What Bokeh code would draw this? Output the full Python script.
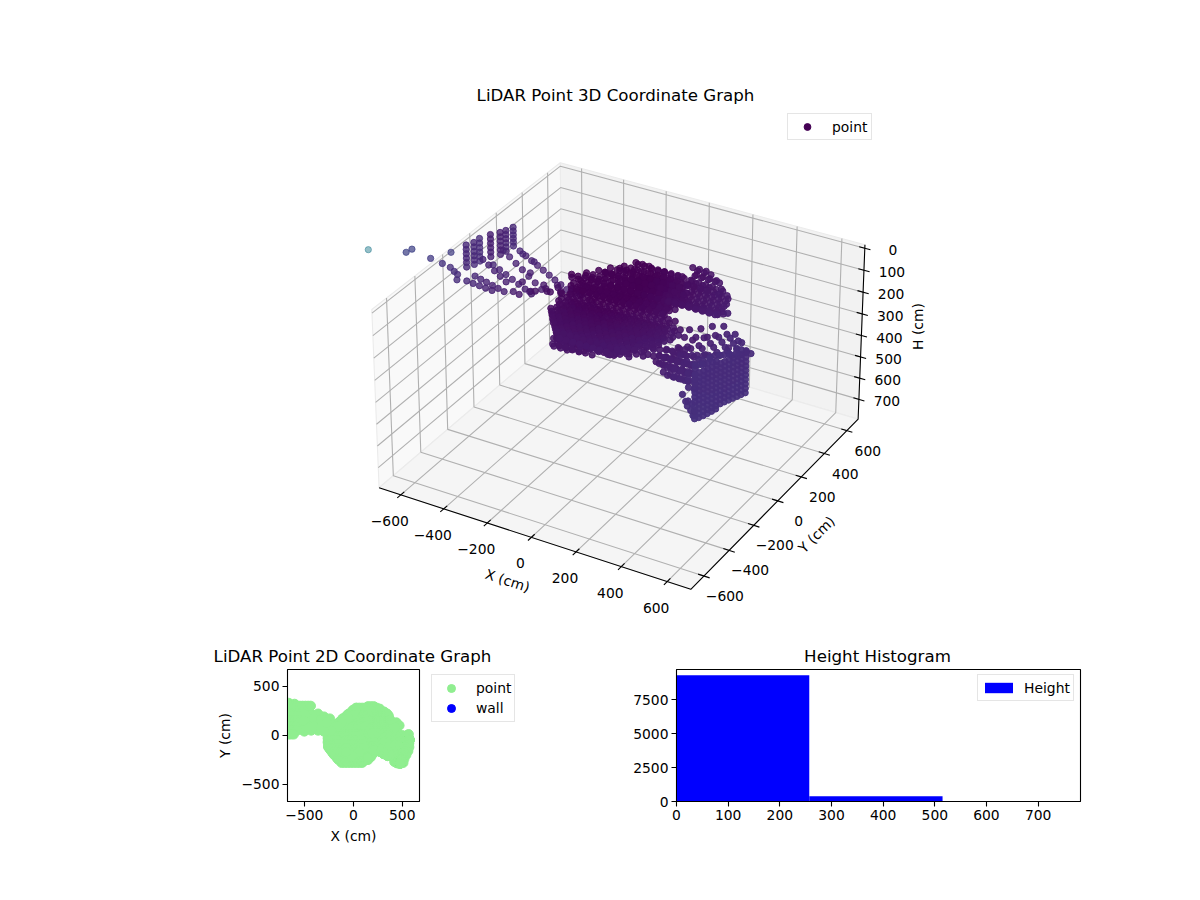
from bokeh.plotting import figure
from bokeh.models import ColumnDataSource, Legend, LegendItem, Range1d, FixedTicker
from bokeh.layouts import column, row
from bokeh.core.properties import value
from bokeh.embed import file_html
from bokeh.resources import INLINE
from bokeh.palettes import Viridis256
from bokeh.transform import linear_cmap
import numpy as np

FONT = "DejaVu Sans"

X_TICKS = [-600, -400, -200, 0, 200, 400, 600]
Y_TICKS = [-600, -400, -200, 0, 200, 400, 600]
H_TICKS = [0, 100, 200, 300, 400, 500, 600, 700]

# lidar returns, x / y / height in cm
CORE_Y = [280, 260, 220, 180, 140, 100, 60, 20, -20, -60, -100, -140, -180, -220, -250, -280]
CORE_H = [95, 110, 120, 125, 130, 130, 130, 130, 135, 135, 140, 140, 145, 150, 150, 155]
CORE_X = [
    [30, 60, 90, 120, 150],
    [0, 30, 60, 90, 120, 150],
    [-45, -15, 15, 45, 75, 105, 135, 165],
    [-90, -60, -30, 0, 30, 60, 90, 120, 150, 180],
    [-135, -105, -75, -45, -15, 15, 45, 75, 105, 135, 165],
    [-240, -210, -180, -150, -120, -90, -60, -30, 0, 30, 60, 90, 120, 150, 180],
    [-270, -240, -210, -180, -150, -120, -90, -60, -30, 0, 30, 60, 90, 120, 150],
    [-225, -195, -165, -135, -105, -75, -45, -15, 15, 45, 75, 105, 135, 165, 195, 225],
    [-240, -210, -180, -150, -120, -90, -60, -30, 0, 30, 60, 90, 120, 150, 180, 210, 240, 270],
    [-255, -225, -195, -165, -135, -105, -75, -45, -15, 15, 45, 75, 105, 135, 165, 195, 225, 255, 285],
    [-240, -210, -180, -150, -120, -90, -60, -30, 0, 30, 60, 90, 120, 150, 180, 210, 240, 270],
    [-240, -210, -180, -150, -120, -90, -60, -30, 0, 30, 60, 90, 120, 150, 180, 210, 240],
    [-210, -180, -150, -120, -90, -60, -30, 0, 30, 60, 90, 120, 150, 180, 210],
    [-150, -120, -90, -60, -30, 0, 30, 60, 90, 120, 150, 180],
    [-150, -120, -90, -60, -30, 0, 30, 60, 90, 120, 150],
    [-120, -90, -60, -30, 0, 30, 60, 90],
]

FILL_Y = [240, 200, 160, 120, 80, 40, 0, -40, -80, -120, -160, -200, -235]
FILL_H = [115, 120, 128, 130, 130, 130, 132, 135, 138, 140, 142, 148, 150]
FILL_X = [
    [-15, 15, 45, 75, 105, 135],
    [-60, -30, 0, 30, 60, 90, 120, 150],
    [-105, -75, -45, -15, 15, 45, 75, 105, 135, 165],
    [-150, -120, -90, -60, -30, 0, 30, 60, 90, 120, 150],
    [-225, -195, -165, -135, -105, -75, -45, -15, 15, 45, 75, 105, 135, 165],
    [-255, -225, -195, -165, -135, -105, -75, -45, -15, 15, 45, 75, 105, 135, 165],
    [-240, -210, -180, -150, -120, -90, -60, -30, 0, 30, 60, 90, 120, 150, 180, 210],
    [-255, -225, -195, -165, -135, -105, -75, -45, -15, 15, 45, 75, 105, 135, 165, 195, 225, 255],
    [-240, -210, -180, -150, -120, -90, -60, -30, 0, 30, 60, 90, 120, 150, 180, 210, 240, 270],
    [-255, -225, -195, -165, -135, -105, -75, -45, -15, 15, 45, 75, 105, 135, 165, 195, 225, 255],
    [-225, -195, -165, -135, -105, -75, -45, -15, 15, 45, 75, 105, 135, 165, 195, 225],
    [-195, -165, -135, -105, -75, -45, -15, 15, 45, 75, 105, 135, 165, 180],
    [-165, -135, -105, -75, -45, -15, 15, 45, 75, 105, 135],
]

CAP_Y = [210, 180, 150, 120, 90, 60, 30, 0]
CAP_H = [95, 95, 95, 95, 95, 95, 95, 100]
CAP_X = [
    [-30, 0, 30, 60, 90, 120, 150],
    [-60, -30, 0, 30, 60, 90, 120, 150, 165],
    [-105, -75, -45, -15, 15, 45, 75, 105, 135, 165],
    [-150, -120, -90, -60, -30, 0, 30, 60, 90, 120, 150, 165],
    [-195, -165, -135, -105, -75, -45, -15, 15, 45, 75, 105, 135, 165],
    [-225, -195, -165, -135, -105, -75, -45, -15, 15, 45, 75, 105, 135, 165],
    [-240, -210, -180, -150, -120, -90, -60, -30, 0, 30, 60, 90, 120, 150, 180],
    [-210, -180, -150, -120, -90, -60, -30, 0, 30, 60, 90, 120, 150, 180],
]

HIGH_Y = [200, 160, 120, 80, 40]
HIGH_H = [65, 65, 65, 65, 65]
HIGH_X = [
    [-60, -30, 0, 30, 60, 90, 120, 150, 180],
    [-105, -75, -45, -15, 15, 45, 75, 105, 135, 165],
    [-150, -120, -90, -60, -30, 0, 30, 60, 90, 120, 150, 165],
    [-210, -180, -150, -120, -90, -60, -30, 0, 30, 60, 90, 120, 150, 165],
    [-255, -225, -195, -165, -135, -105, -75, -45, -15, 15, 45, 75, 105, 135, 165, 180],
]

ROOF_Y = [210, 170, 130, 90, 280, 240, 200, 160]
ROOF_H = [45, 45, 45, 45, 45, 45, 45, 45]
ROOF_X = [
    [-50, -20, 10, 40, 70, 100, 130, 150],
    [-90, -60, -30, 0, 30, 60, 90, 120, 150],
    [-130, -100, -70, -40, -10, 20, 50, 80, 110, 150],
    [-160, -130, -100, -70, -40, -10, 20, 50, 80, 120],
    [180, 210, 240],
    [190, 220, 250, 280, 300],
    [200, 230, 260, 290, 330],
    [200, 230, 260, 290, 340],
]

LOWER_Y = [30, -10, -50, -90, -130, -170, -210, -245, -270]
LOWER_H = [200, 200, 200, 200, 200, 200, 195, 175, 170]
LOWER_X = [
    [-240, -200, -160, -120],
    [-250, -210, -170, -130, -90, -50],
    [-240, -200, -160, -120, -80, -40, 0, 40],
    [-250, -210, -170, -130, -90, -50, -10, 30, 70, 110],
    [-230, -190, -150, -110, -70, -30, 10, 50, 90, 130, 170],
    [-200, -160, -120, -80, -40, 0, 40, 80, 120, 160, 190],
    [-170, -130, -90, -50, -10, 30, 70, 110, 150],
    [-130, -90, -50, -10, 30, 70, 110],
    [-110, -70, -30, 10, 50, 90, 100],
]

MID_Y = [10, -30, -70, -110, -150, -190, -230]
MID_H = [170, 170, 170, 170, 170, 170, 170]
MID_X = [
    [-240, -210, -180, -150, -120, -90, -60, -30, 0, 30, 60, 90, 120, 150, 180],
    [-255, -225, -195, -165, -135, -105, -75, -45, -15, 15, 45, 75, 105, 135, 165, 195],
    [-240, -210, -180, -150, -120, -90, -60, -30, 0, 30, 60, 90, 120, 150, 180, 210],
    [-255, -225, -195, -165, -135, -105, -75, -45, -15, 15, 45, 75, 105, 135, 165, 195, 225],
    [-225, -195, -165, -135, -105, -75, -45, -15, 15, 45, 75, 105, 135, 165, 195, 225],
    [-195, -165, -135, -105, -75, -45, -15, 15, 45, 75, 105, 135, 165, 195],
    [-150, -120, -90, -60, -30, 0, 30, 60, 90, 120, 150],
]

DEEP_Y = [-10, -50, -90, -130, -170, -210]
DEEP_H = [235, 235, 235, 235, 235, 235]
DEEP_X = [
    [-240, -210, -180, -150, -120, -90, -60, -30, 0, 30, 60],
    [-255, -225, -195, -165, -135, -105, -75, -45, -15, 15, 45, 75],
    [-240, -210, -180, -150, -120, -90, -60, -30, 0, 30, 60, 90],
    [-225, -195, -165, -135, -105, -75, -45, -15, 15, 45, 75, 105],
    [-195, -165, -135, -105, -75, -45, -15, 15, 45, 60],
    [-165, -135, -105, -75, -45, -15],
]

BASE_Y = [20, -30, -70, -110, -150, -190, -50, -90, -130, -170]
BASE_H = [280, 280, 280, 280, 280, 260, 260, 260, 260, 255]
BASE_X = [
    [-250, -220],
    [-260, -230],
    [-260, -230, -200],
    [-250, -220, -190, -160],
    [-230, -200, -170, -140, -110],
    [-200, -170, -140],
    [-255, -225, -195, -165],
    [-240, -210, -180, -150, -120, -90],
    [-225, -195, -165, -135, -105, -75],
    [-195, -165, -135, -105, -75],
]

RIM_Y = [278, 250, 210, 170, 130, 90, 50]
RIM_H = [90, 75, 40, 60, 75, 85, 85]
RIM_X = [
    [30],
    [-10, 20],
    [-60, -30, 0],
    [-110, -80, -50],
    [-150, -120],
    [-220, -190, -160],
    [-260, -230],
]

RIGHT_Y = [295, 270, 240, 220, 200, 180, 160, 140, 120, 100, 80, 60, 40, 20]
RIGHT_H = [45, 58, 78, 80, 80, 80, 80, 80, 80, 80, 75, 70, 60, 50]
RIGHT_X = [
    [150, 180, 210],
    [180, 210, 240, 270],
    [195, 225, 255, 285, 315],
    [195, 225, 255, 285, 315, 345],
    [210, 240, 270, 300, 330, 360],
    [210, 240, 270, 300, 330, 360],
    [195, 225, 255, 285, 315, 345, 375],
    [195, 225, 255, 285, 315, 345, 375],
    [210, 240, 270, 300, 330, 360, 375],
    [210, 240, 270, 300, 330, 360, 390],
    [195, 225, 255, 285, 315, 345, 375, 405],
    [180, 210, 240, 270, 300, 330, 360, 390],
    [210, 240, 270, 300, 330, 360, 400],
    [195, 225, 255, 285, 315, 345, 375, 400],
]

SCATTER_X = [300, 350, 400, 450, 500, 550, 565,
             300, 350, 400, 450, 500, 550, 570,
             300, 350, 400, 450, 500, 550, 570,
             300, 350, 400, 450, 500, 550, 570,
             350, 400, 450, 500, 540, 560,
             400, 450, 500, 540,
             450, 490, 520,
             480, 510,
             440, 440, 470, 430,
             325, 375, 425, 475, 525,
             325, 375, 425, 475, 525,
             375, 425, 475, 520]
SCATTER_Y = [0, 0, 0, 0, 0, 0, 10,
             -40, -40, -40, -40, -40, -40, -40,
             -80, -80, -80, -80, -80, -80, -80,
             -120, -120, -120, -120, -120, -120, -120,
             -160, -160, -160, -160, -160, -160,
             -200, -200, -200, -200,
             -240, -240, -240,
             -280, -280,
             50, 130, 100, 80,
             -20, -20, -20, -20, -20,
             -60, -60, -60, -60, -60,
             -100, -100, -100, -100]
SCATTER_H = [136, 117, 92, 77, 98, 160, 170,
             150, 135, 120, 105, 95, 100, 130,
             180, 165, 150, 130, 115, 105, 105,
             190, 175, 160, 145, 130, 115, 100,
             155, 140, 125, 110, 95, 85,
             147, 122, 98, 77,
             121, 95, 77,
             112, 85,
             47, 250, 250, 220,
             165, 140, 115, 95, 110,
             175, 155, 130, 110, 100,
             185, 160, 135, 115]

BAND_ROW_Y = [-90, -110, -110, -110, -130, -130, -130, -150, -150, -150, -170, -170, -170, -190, -190, -210, -210, -250, -250]
BAND_ROW_H = [170, 180, 215, 190, 170, 205, 235, 190, 225, 200, 180, 215, 245, 205, 240, 190, 225, 190, 225]
BAND_ROW_X = [
    [300, 330],
    [260, 285, 310, 335],
    [260, 285, 310, 335],
    [200, 230],
    [270, 300, 330, 360],
    [240, 270, 300, 330, 360],
    [225, 250, 280, 310, 340],
    [250, 275, 300, 325, 350, 375, 390],
    [250, 275, 300, 325, 350, 375, 390],
    [200, 225],
    [280, 310, 340, 370, 400],
    [280, 310, 340, 370, 400],
    [280, 310, 340, 370],
    [310, 335, 360, 385, 400],
    [310, 335, 360, 385, 400],
    [350, 380, 410, 440],
    [350, 380, 410, 440],
    [435, 460],
    [435, 460],
]

BAND_X = [420, 450, 470, 480, 440, 450, 465, 475]
BAND_Y = [-270, -280, -285, -285, -280, -285, -285, -285]
BAND_H = [250, 265, 270, 300, 270, 285, 300, 320]

WALL_X = [572, 564, 557, 549, 542, 534, 527, 519, 512, 504, 497, 489, 482]
WALL_Y = [-45, -65, -85, -105, -125, -145, -165, -185, -205, -225, -245, -265, -285]
WALL_H = [135, 155, 175, 195, 215, 235, 255, 275, 295, 315]
WALL_EXTRA_X = [519, 512, 504, 497, 489, 482, 519, 512, 504, 497, 489, 482]
WALL_EXTRA_Y = [-185, -205, -225, -245, -265, -285, -185, -205, -225, -245, -265, -285]
WALL_EXTRA_H = [118, 112, 108, 105, 100, 95, 330, 332, 334, 335, 335, 332]

STACK_X = [-740, -748, -772, -643, -654, -677, -692]
STACK_Y = [30, 100, 180, 60, 150, 230, 310]
STACK_H = [
    [62, 82, 102, 122, 142, 163],
    [86, 106, 127, 147, 167, 187],
    [112, 133, 154, 175, 196, 217],
    [2, 22, 42, 62, 82, 103],
    [38, 58, 78, 98, 118, 139],
    [73, 92, 111, 130, 149, 169],
    [100, 117, 135, 152, 169, 187],
]

DIAG_Y = [300, 220, 150, 90, 50, 10]
DIAG_X = [
    [-655, -627, -600, -572, -545, -517, -490, -462, -435],
    [-685, -655, -625, -595, -565, -535, -505],
    [-690, -660, -630, -600, -570, -540, -510],
    [-700, -673, -646, -619, -592],
    [-714, -687, -660, -632, -605, -577],
    [-728, -698, -668, -639, -609],
]
DIAG_H = [
    [195, 210, 225, 239, 254, 269, 284, 298, 313],
    [162, 184, 206, 227, 249, 271, 293],
    [197, 211, 225, 239, 253, 267, 281],
    [146, 164, 183, 201, 219],
    [207, 214, 220, 227, 233, 240],
    [214, 217, 219, 222, 224],
]

NECK_X = [-500, -500, -430, -430, -430, -360, -360, -360, -300, -300, -300, -240, -660, -600,
          -470, -470, -400, -400, -330, -330, -270, -540, -540, -570]
NECK_Y = [120, 40, 220, 130, 50, 220, 130, 50, 190, 110, 40, 170, 330, 320,
          180, 80, 175, 90, 160, 80, 130, 130, 60, 240]
NECK_H = [253, 226, 252, 224, 196, 254, 217, 180, 230, 202, 166, 247, 225, 240,
          243, 223, 233, 208, 223, 191, 208, 224, 234, 244]

# the few far returns on the left, the first one is the highest of all
FAR_X = [-1800, -1116, -1125, -972, -990, -876, -825, -800, -778, -775]
FAR_Y = [870, 200, 170, 120, 300, 60, 40, 30, 20, 10]
FAR_H = [778, 266, 269, 231, 294, 199, 193, 200, 203, 222]

# legend entries only, these lie outside the views
LEGEND_X = [5000]
LEGEND_Y = [5000]

HIST_EDGES = [0, 257, 515, 773]
HIST_COUNTS = [9292, 390, 1]


def rows_to_points(row_x, row_y, row_h):
    xs, ys, hs = [], [], []
    for vals, y, h in zip(row_x, row_y, row_h):
        xs += vals
        ys += [y] * len(vals)
        hs += [h] * len(vals)
    return xs, ys, hs


parts = [rows_to_points(CORE_X, CORE_Y, CORE_H),
         rows_to_points(FILL_X, FILL_Y, FILL_H),
         rows_to_points(CAP_X, CAP_Y, CAP_H),
         rows_to_points(HIGH_X, HIGH_Y, HIGH_H),
         rows_to_points(ROOF_X, ROOF_Y, ROOF_H),
         rows_to_points(LOWER_X, LOWER_Y, LOWER_H),
         rows_to_points(MID_X, MID_Y, MID_H),
         rows_to_points(DEEP_X, DEEP_Y, DEEP_H),
         rows_to_points(BASE_X, BASE_Y, BASE_H),
         rows_to_points(RIM_X, RIM_Y, RIM_H),
         rows_to_points(RIGHT_X, RIGHT_Y, RIGHT_H),
         rows_to_points(BAND_ROW_X, BAND_ROW_Y, BAND_ROW_H),
         (SCATTER_X, SCATTER_Y, SCATTER_H),
         (BAND_X, BAND_Y, BAND_H),
         (WALL_EXTRA_X, WALL_EXTRA_Y, WALL_EXTRA_H),
         (NECK_X, NECK_Y, NECK_H),
         (FAR_X, FAR_Y, FAR_H)]

for h in WALL_H:
    parts.append((WALL_X, WALL_Y, [h] * len(WALL_X)))
for x, y, hs in zip(STACK_X, STACK_Y, STACK_H):
    parts.append(([x] * len(hs), [y] * len(hs), hs))
for xs, y, hs in zip(DIAG_X, DIAG_Y, DIAG_H):
    parts.append((xs, [y] * len(xs), hs))

point_x = np.array(sum([list(q[0]) for q in parts], []), dtype=float)
point_y = np.array(sum([list(q[1]) for q in parts], []), dtype=float)
point_h = np.array(sum([list(q[2]) for q in parts], []), dtype=float)


def project(x, y, h):
    # same camera as an elev 30 / azim -60 view, fitted to the box corners
    dx = np.asarray(x, dtype=float) / 702 * 0.52
    dy = np.asarray(y, dtype=float) / 702 * 0.52
    dz = (389 - np.asarray(h, dtype=float)) / 405 * 0.29
    depth = 0.433 * dx - 0.75 * dy + 0.5 * dz
    w = 10 - depth
    sx = 622 + 3420 * (0.866 * dx + 0.5 * dy) / w
    sy = 365.5 - 3510 * (-0.25 * dx + 0.433 * dy + 0.866 * dz) / w
    return sx, sy, depth


BOX = 702
TOP = -16
FLOOR = 794

# the top canvas also carries the two lower titles, the left one is wider than its plot
p = figure(width=1190, height=668, x_range=Range1d(0, 1190), y_range=Range1d(668, 0),
           output_backend="svg", toolbar_location=None, min_border=0)
p.axis.visible = False
p.grid.visible = False
p.outline_line_color = None


def pane(a, b, c, d, color):
    sx, sy, _ = project(*zip(a, b, c, d))
    p.patch(list(sx), list(sy), fill_color=color, line_color="#ebebeb", line_width=1.1)


pane((-BOX, -BOX, FLOOR), (-BOX, BOX, FLOOR), (-BOX, BOX, TOP), (-BOX, -BOX, TOP), "#f9f9f9")
pane((-BOX, BOX, FLOOR), (BOX, BOX, FLOOR), (BOX, BOX, TOP), (-BOX, BOX, TOP), "#f2f2f2")
pane((-BOX, -BOX, FLOOR), (BOX, -BOX, FLOOR), (BOX, BOX, FLOOR), (-BOX, BOX, FLOOR), "#f5f5f5")

grid_x, grid_y = [], []


def add_grid(a, b, c):
    sx, sy, _ = project(*zip(a, b, c))
    grid_x.append(list(sx))
    grid_y.append(list(sy))


for t in X_TICKS:
    add_grid((t, -BOX, FLOOR), (t, BOX, FLOOR), (t, BOX, TOP))
for t in Y_TICKS:
    add_grid((BOX, t, FLOOR), (-BOX, t, FLOOR), (-BOX, t, TOP))
for t in H_TICKS:
    add_grid((-BOX, -BOX, t), (-BOX, BOX, t), (BOX, BOX, t))
p.multi_line(grid_x, grid_y, line_color="#b0b0b0", line_width=1.1)

ax_sx, ax_sy, _ = project([-BOX, BOX, BOX, BOX], [-BOX, -BOX, BOX, BOX], [FLOOR, FLOOR, FLOOR, TOP])
p.line(list(ax_sx), list(ax_sy), line_color="black", line_width=1.1)

tick_x, tick_y = [], []
lab_x, lab_y, lab_text = [], [], []


def minus(t):
    return str(t).replace("-", "\u2212")


for t in X_TICKS:
    sx, sy, _ = project([t, t], [-BOX - 25, -BOX + 25], [FLOOR, FLOOR])
    tick_x.append(list(sx))
    tick_y.append(list(sy))
    sx, sy, _ = project(t, -BOX, FLOOR)
    lab_x.append(float(sx) - 11)
    lab_y.append(float(sy) + 26)
    lab_text.append(minus(t))
for t in Y_TICKS:
    sx, sy, _ = project([BOX + 25, BOX - 25], [t, t], [FLOOR, FLOOR])
    tick_x.append(list(sx))
    tick_y.append(list(sy))
    sx, sy, _ = project(BOX, t, FLOOR)
    lab_x.append(float(sx) + 21)
    lab_y.append(float(sy) + 20)
    lab_text.append(minus(t))
for t in H_TICKS:
    sx, sy, _ = project([BOX - 25, BOX + 25], [BOX, BOX], [t, t])
    tick_x.append(list(sx))
    tick_y.append(list(sy))
    sx, sy, _ = project(BOX, BOX, t)
    lab_x.append(float(sx) + 28)
    lab_y.append(float(sy) + 2)
    lab_text.append(minus(t))
p.multi_line(tick_x, tick_y, line_color="black", line_width=1.1)
p.text(lab_x, lab_y, text=lab_text, text_align="center", text_baseline="middle",
       text_font=value(FONT), text_font_size="13.89px", text_color="black")

p.text([507], [580], text=["X (cm)"], angle=[-18], angle_units="deg", text_align="center",
       text_baseline="middle", text_font=value(FONT), text_font_size="13.89px")
p.text([816], [534], text=["Y (cm)"], angle=[45], angle_units="deg", text_align="center",
       text_baseline="middle", text_font=value(FONT), text_font_size="13.89px")
p.text([917], [326], text=["H (cm)"], angle=[90], angle_units="deg", text_align="center",
       text_baseline="middle", text_font=value(FONT), text_font_size="13.89px")
p.text([615, 352, 877], [95, 656, 656],
       text=["LiDAR Point 3D Coordinate Graph", "LiDAR Point 2D Coordinate Graph", "Height Histogram"],
       text_align="center", text_baseline="middle", text_font=value(FONT), text_font_size="16.67px")

sx, sy, depth = project(point_x, point_y, point_h)
order = np.argsort(depth)
# colour follows the distance from a spot near the scanner
source = ColumnDataSource(dict(
    sx=sx[order], sy=sy[order],
    dist=np.sqrt((point_x + 100) ** 2 + (point_y - 100) ** 2 + point_h ** 2)[order],
    alpha=np.clip(0.85 + 0.3 * depth[order], 0.3, 1.0)))
cmap = linear_cmap("dist", Viridis256, 150, 4620)
p.scatter("sx", "sy", source=source, size=6.3, line_width=1, fill_color=cmap, line_color=cmap,
          fill_alpha="alpha", line_alpha="alpha")

legend_point = p.scatter(LEGEND_X, LEGEND_Y, size=6, color="#440154")
leg3d = Legend(items=[LegendItem(label="point", renderers=[legend_point])], location=(787, 528),
               border_line_color="#cccccc", label_text_font=FONT, label_text_font_size="13.89px",
               label_text_color="black", glyph_width=30, glyph_height=17, label_height=17,
               label_standoff=10, padding=4, margin=0, spacing=0)
p.add_layout(leg3d)

# 2D view
p2 = figure(width=430, height=192, x_range=Range1d(-672, 676), y_range=Range1d(-676, 672),
            output_backend="svg", toolbar_location=None,
            min_border_left=287, min_border_right=11, min_border_top=1, min_border_bottom=59,
            x_axis_label="X (cm)", y_axis_label="Y (cm)")
p2.grid.visible = False
p2.scatter(point_x, point_y, size=9.5, color="#90ee90")

# the legend of the 2D view sits outside its frame, so it gets a canvas of its own
p2_legend = figure(width=200, height=192, x_range=Range1d(0, 1), y_range=Range1d(0, 1),
                   output_backend="svg", toolbar_location=None, min_border=0)
p2_legend.axis.visible = False
p2_legend.grid.visible = False
p2_legend.outline_line_color = None
point_r = p2_legend.scatter(LEGEND_X, LEGEND_Y, size=9.5, color="#90ee90")
wall_r = p2_legend.scatter(LEGEND_X, LEGEND_Y, size=9.5, color="blue")
leg2d = Legend(items=[LegendItem(label="point", renderers=[point_r]),
                      LegendItem(label="wall", renderers=[wall_r])],
               location=(1, 79), border_line_color="#cccccc", label_text_font=FONT,
               label_text_font_size="13.89px", label_text_color="black", glyph_width=32,
               glyph_height=20, label_standoff=9, padding=3, margin=0, spacing=0)
p2_legend.add_layout(leg2d)

# histogram
p3 = figure(width=460, height=192, x_range=Range1d(0, 782), y_range=Range1d(0, 9713),
            output_backend="svg", toolbar_location=None,
            min_border_left=46, min_border_right=10, min_border_top=1, min_border_bottom=59)
p3.grid.visible = False
hist_r = p3.quad(left=HIST_EDGES[:-1], right=HIST_EDGES[1:], bottom=0, top=HIST_COUNTS,
                 color="blue", line_width=0)
leg_h = Legend(items=[LegendItem(label="Height", renderers=[hist_r])], location=(301, 100),
               border_line_color="#cccccc", label_text_font=FONT, label_text_font_size="13.89px",
               label_text_color="black", glyph_width=35, glyph_height=13, label_height=19,
               label_standoff=8, padding=3, margin=0, spacing=0)
p3.add_layout(leg_h)

for fig in (p2, p3):
    fig.outline_line_color = "black"
    fig.outline_line_width = 1.1
    for ax in (fig.xaxis[0], fig.yaxis[0]):
        ax.axis_line_color = "black"
        ax.major_tick_line_color = "black"
        ax.major_tick_line_width = 1.1
        ax.major_tick_out = 5
        ax.major_tick_in = 0
        ax.minor_tick_line_color = None
        ax.major_label_standoff = 3
        ax.major_label_text_font = FONT
        ax.major_label_text_font_size = "13.89px"
        ax.major_label_text_color = "black"
        ax.axis_label_text_font = FONT
        ax.axis_label_text_font_size = "13.89px"
        ax.axis_label_text_font_style = "normal"
        ax.axis_label_text_color = "black"

p2.xaxis[0].ticker = FixedTicker(ticks=[-500, 0, 500])
p2.yaxis[0].ticker = FixedTicker(ticks=[-500, 0, 500])
p2.xaxis[0].major_label_overrides = {-500: "\u2212500"}
p2.yaxis[0].major_label_overrides = {-500: "\u2212500"}
p2.yaxis[0].major_label_orientation = "horizontal"
p3.xaxis[0].ticker = FixedTicker(ticks=[0, 100, 200, 300, 400, 500, 600, 700])
p3.yaxis[0].ticker = FixedTicker(ticks=[0, 2500, 5000, 7500])
p3.yaxis[0].major_label_orientation = "horizontal"

page = column(p, row(p2, p2_legend, p3, spacing=0), spacing=0)
open("out.html", "w").write(file_html(page, INLINE))
